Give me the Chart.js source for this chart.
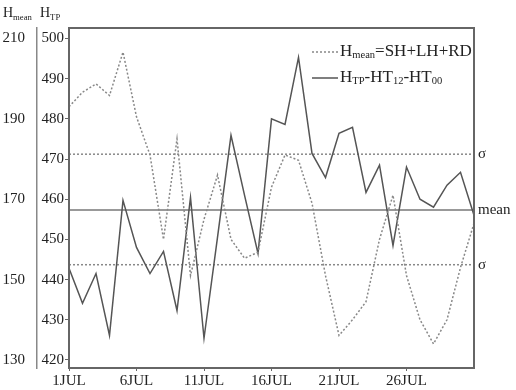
<!DOCTYPE html>
<html>
<head>
<meta charset="utf-8">
<script src="https://cdn.jsdelivr.net/npm/chart.js@4"></script>
<style>
  html, body { margin: 0; padding: 0; background: #fff; }
  #wrap { width: 516px; height: 390px; }
</style>
</head>
<body>
<div id="wrap"><canvas id="myChart" width="516" height="390"></canvas></div>
<script>
// Daily values, July
const days = [1,2,3,4,5,6,7,8,9,10,11,12,13,14,15,16,17,18,19,20,21,22,23,24,25,26,27,28,29,30,31];
const hmean = [193,196.6,198.7,195.8,206.6,190.5,181,160,185,151,165,176,160,155.3,156.8,173,181,179.7,169,151,136.1,140,144.5,160,171,151,140,134,140,153,164];
const htp = [442.8,434.1,441.5,426.1,459.7,448,441.5,447,432.3,460.4,425.4,450.5,475.9,461,446.5,480,478.6,495.3,471.4,465.4,476.4,477.9,461.7,468.5,448.5,468,460,458,463.5,466.7,456];

const xTickDays = [1,6,11,16,21,26];
const xTickLabels = ["1JUL","6JUL","11JUL","16JUL","21JUL","26JUL"];
const htpTicks = [420,430,440,450,460,470,480,490,500];
const hmeanTicks = [130,150,170,190,210];

// mean and +/- sigma levels (HTP scale)
const refLevels = [471.2, 457.3, 443.7];
const refNames = ["σ", "mean", "σ"];

const SERIF = '"Liberation Serif", "DejaVu Serif", serif';
const TEXT = "#222";
const FRAME = "#666";

function drawRich(ctx, parts, x, y, size) {
    parts.forEach(p => {
        const s = p.sub ? size * 0.62 : size;
        ctx.font = s + "px " + SERIF;
        ctx.fillText(p.t, x, p.sub ? y + size * 0.22 : y);
        x += ctx.measureText(p.t).width;
    });
}

const decor = {
    id: "decor",
    beforeDatasetsDraw(chart) {
        const ctx = chart.ctx;
        const a = chart.chartArea;
        const ys = chart.scales.y;
        ctx.save();
        refLevels.forEach((lv, i) => {
            const py = ys.getPixelForValue(lv);
            ctx.beginPath();
            ctx.strokeStyle = i === 1 ? "#777" : "#888";
            ctx.lineWidth = 1.5;
            ctx.setLineDash(i === 1 ? [] : [2, 2]);
            ctx.moveTo(a.left, py);
            ctx.lineTo(a.right, py);
            ctx.stroke();
        });
        ctx.restore();
    },
    afterDraw(chart) {
        const ctx = chart.ctx;
        const a = chart.chartArea;
        const ys = chart.scales.y;
        ctx.save();

        // frame
        ctx.strokeStyle = FRAME;
        ctx.lineWidth = 2;
        ctx.strokeRect(a.left, a.top, a.right - a.left, a.bottom - a.top);

        ctx.fillStyle = TEXT;
        ctx.textBaseline = "middle";
        ctx.textAlign = "left";

        // labels for mean / sigma
        refLevels.forEach((lv, i) => {
            ctx.font = "15px " + SERIF;
            ctx.fillText(refNames[i], a.right + 4, ys.getPixelForValue(lv));
        });

        // axis titles
        ctx.textBaseline = "alphabetic";
        drawRich(ctx, [{t: "H"}, {t: "mean", sub: true}], 3, 17, 14);
        drawRich(ctx, [{t: "H"}, {t: "TP", sub: true}], 40, 17, 14);

        // legend
        ctx.textBaseline = "middle";
        ctx.lineWidth = 1.5;
        ctx.strokeStyle = "#888";
        ctx.setLineDash([2, 2]);
        ctx.beginPath();
        ctx.moveTo(312, 52);
        ctx.lineTo(338, 52);
        ctx.stroke();
        ctx.setLineDash([]);
        ctx.strokeStyle = "#555";
        ctx.beginPath();
        ctx.moveTo(312, 78);
        ctx.lineTo(338, 78);
        ctx.stroke();
        drawRich(ctx, [{t: "H"}, {t: "mean", sub: true}, {t: "=SH+LH+RD"}], 340, 52, 17);
        drawRich(ctx, [{t: "H"}, {t: "TP", sub: true}, {t: "-HT"}, {t: "12", sub: true}, {t: "-HT"}, {t: "00", sub: true}], 340, 78, 17);

        ctx.restore();
    }
};

const ctx = document.getElementById("myChart").getContext("2d");
new Chart(ctx, {
    type: "line",
    data: {
        labels: days,
        datasets: [
            {
                label: "Hmean=SH+LH+RD",
                data: hmean,
                yAxisID: "yM",
                borderColor: "#888",
                borderWidth: 1.5,
                borderDash: [2, 2],
                pointRadius: 0,
                tension: 0,
                fill: false
            },
            {
                label: "HTP-HT12-HT00",
                data: htp,
                yAxisID: "y",
                borderColor: "#555",
                borderWidth: 1.5,
                pointRadius: 0,
                tension: 0,
                fill: false
            }
        ]
    },
    options: {
        responsive: false,
        animation: false,
        devicePixelRatio: 1,
        layout: { padding: { top: 28, right: 42, left: 0, bottom: 0 } },
        plugins: { legend: { display: false }, tooltip: { enabled: false } },
        scales: {
            x: {
                type: "category",
                offset: false,
                grid: { display: true, drawOnChartArea: false, tickLength: 3, color: FRAME },
                border: { color: FRAME, width: 2 },
                ticks: {
                    autoSkip: false,
                    maxRotation: 0,
                    padding: 1,
                    color: TEXT,
                    font: { family: SERIF, size: 15 },
                    callback: (v, i) => {
                        const k = xTickDays.indexOf(days[i]);
                        return k >= 0 ? xTickLabels[k] : null;
                    }
                },
                afterFit: s => { s.height = 22; }
            },
            y: {
                type: "linear",
                position: "left",
                weight: 0,
                min: 418,
                max: 502.6,
                afterBuildTicks: s => { s.ticks = htpTicks.map(v => ({ value: v })); },
                grid: { drawOnChartArea: false, tickLength: 4, color: FRAME },
                border: { color: FRAME, width: 2 },
                ticks: { padding: 1, color: TEXT, font: { family: SERIF, size: 15 } },
                afterFit: s => { s.width = 32; }
            },
            yM: {
                type: "linear",
                position: "left",
                weight: 1,
                min: 128,
                max: 212.6,
                afterBuildTicks: s => { s.ticks = hmeanTicks.map(v => ({ value: v })); },
                grid: { display: false },
                border: { display: true, color: "#888", width: 1.5 },
                ticks: { padding: 4, color: TEXT, font: { family: SERIF, size: 15 } },
                afterFit: s => { s.width = 37; }
            }
        }
    },
    plugins: [decor]
});
</script>
</body>
</html>
